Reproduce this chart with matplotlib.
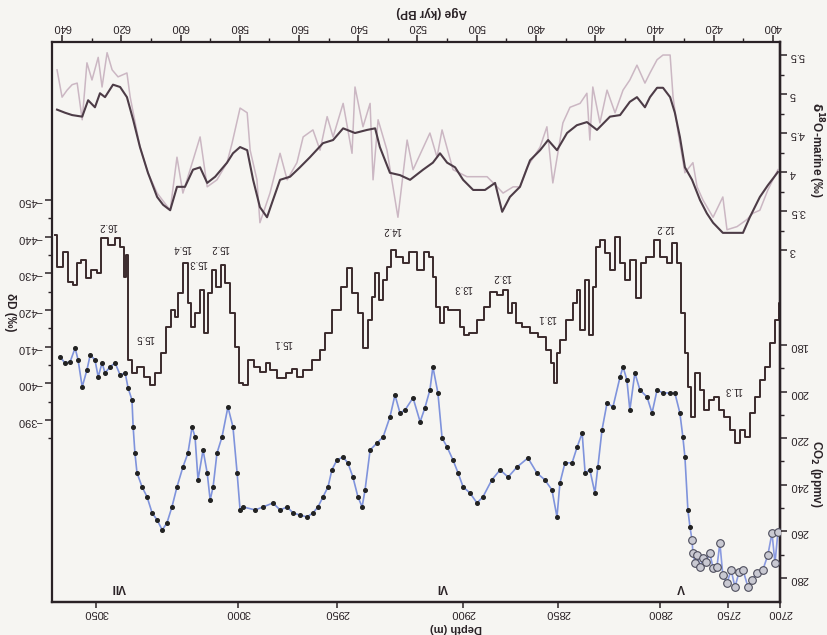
import matplotlib
matplotlib.use("Agg")
import matplotlib.pyplot as plt
from matplotlib.ticker import FixedLocator

plt.rcParams['font.family'] = ['Liberation Sans', 'DejaVu Sans']

# ---------------- data (figure is printed upside down) ----------------
dD_age = [642.4, 640.7, 639.0, 637.3, 635.6, 634.6, 632.9, 631.2, 629.5, 627.2, 626.2, 623.1, 621.1, 619.7,
          618.7, 618.4, 617.0, 616.0, 613.7, 611.3, 609.6, 607.6, 605.9, 604.2, 602.5, 601.2, 600.2, 598.1,
          596.8, 595.8, 594.4, 592.7, 591.7, 590.0, 589.0, 587.3, 585.6, 584.3, 582.6, 580.9, 579.9, 578.2,
          576.5, 574.2, 572.0, 570.5, 568.8, 566.0, 563.0, 561.5, 559.7, 557.3, 553.9, 552.2, 550.5, 547.2,
          544.5, 542.8, 541.1, 539.4,
          537.4, 536.0, 535.0, 533.7, 532.0, 531.0, 529.3, 528.3, 525.9, 524.2, 521.5, 519.1, 516.8, 515.1,
          514.1, 513.1, 511.7, 510.7, 509.0, 506.3, 505.0, 503.9, 501.2, 498.9, 496.5, 494.5, 492.1, 490.4,
          488.8, 487.7, 486.1, 483.0, 481.0, 477.6, 475.3, 474.3, 473.2, 472.6, 470.9, 468.5, 466.8, 465.8,
          464.4, 462.8, 461.1, 460.1, 459.1, 457.4, 456.0, 454.3, 452.6, 450.9, 449.3, 447.2, 445.2, 443.9,
          441.5, 439.1, 437.1, 434.7, 433.1, 431.4, 430.4, 429.0, 428.0, 427.0, 425.6, 423.9, 422.3, 420.6,
          418.9, 417.2, 415.5, 413.5, 412.1, 410.1, 408.4, 406.8, 405.1, 403.4, 401.7, 400.0, 398.6, 397.6]
dD_val = [-440.5, -431.7, -435.8, -427.6, -426.8, -432.8, -433.6, -428.7, -430.9, -430.1, -439.6, -437.7,
          -439.6, -437.2, -429.0, -435.0, -406.4, -402.8, -404.5, -401.7, -399.5, -402.8, -408.3, -415.4,
          -420.0, -418.1, -424.6, -432.8, -421.9, -415.4, -419.2, -425.5, -413.7, -424.6, -430.9, -426.3,
          -432.3, -427.4, -419.2, -409.9, -400.1, -399.5, -406.4, -404.5, -403.0, -405.5, -403.6, -401.5,
          -402.8, -404.0, -401.7, -403.6, -406.4, -409.1, -413.7, -420.0, -426.3, -431.5, -424.6, -419.2,
          -409.6, -417.3, -423.5, -430.1,
          -422.7, -428.2, -431.7, -436.4, -434.5, -432.8, -435.8, -430.9, -435.8, -434.5, -429.0, -420.8,
          -416.5, -420.8, -420.0, -420.0, -415.4, -413.2, -413.7, -417.3, -420.8, -424.9, -424.1, -425.5,
          -419.2, -421.9, -416.5, -415.4, -413.7, -412.6, -409.1, -405.6, -400.1, -408.3, -411.8, -417.3,
          -421.9, -425.5, -414.5, -428.2, -413.2, -426.3, -437.2, -439.1, -435.5, -430.9, -439.9, -432.8,
          -428.2, -433.6, -423.3, -432.8, -434.5, -439.1, -434.5, -432.8, -438.3, -432.8, -419.2, -408.3,
          -399.0, -390.8, -402.8, -398.2, -392.7, -395.5, -396.3, -392.7, -390.8, -387.3, -383.7, -387.3,
          -385.4, -391.9, -396.3, -400.9, -404.5, -411.0, -417.3, -421.9]

co2_age = [640.7, 639.0, 637.3, 635.6, 634.6, 633.2, 631.6, 630.5, 628.9, 627.8, 626.5, 625.5, 623.8, 622.1,
           620.4, 618.7, 617.7, 616.4, 616.0, 615.4, 614.7, 613.0, 611.3, 609.6, 607.9, 606.2, 604.6, 602.9,
           601.2, 599.2, 597.5, 596.1, 595.1, 594.1, 592.4, 591.0, 590.0, 589.0, 587.7, 586.0, 584.0, 582.3,
           580.9, 579.9, 578.9, 574.8, 572.1, 568.8, 566.4, 564.0, 562.0, 559.7, 557.3, 555.3, 553.6, 551.9,
           550.2, 548.9, 547.2, 545.2, 543.5, 541.8, 540.1, 538.7, 537.7, 536.0, 533.7, 531.6, 529.3, 527.6,
           525.9, 524.2, 521.5, 519.1, 517.5, 515.8, 514.8, 513.1, 511.7, 510.0, 508.0, 506.3, 504.6, 502.3,
           499.9, 497.9, 494.9, 492.1, 489.4, 486.4, 482.7, 479.7, 477.0, 474.6, 472.9, 471.9, 470.2, 467.8,
           466.1, 464.4, 463.4, 461.8, 460.1, 459.1, 457.7, 456.0, 454.0, 451.6, 450.6, 449.3, 448.3, 446.6,
           444.9, 442.5, 440.8, 439.1, 437.1, 434.7, 433.1, 431.4, 430.4, 429.7, 428.7, 428.0]
co2_val = [185.2, 187.7, 187.3, 181.3, 186.4, 198.0, 190.7, 184.3, 186.4, 193.7, 187.7, 192.0, 189.4, 187.7,
           192.9, 192.0, 198.5, 203.6, 215.2, 226.4, 234.9, 240.9, 245.2, 252.1, 255.1, 259.4, 256.4, 249.5,
           240.9, 232.4, 226.4, 215.2, 219.5, 237.9, 225.1, 234.9, 246.5, 240.9, 226.4, 219.5, 206.6, 215.2,
           234.9, 250.8, 249.5, 250.8, 249.5, 247.8, 250.8, 249.5, 252.1, 253.0, 253.8, 252.1, 249.5, 245.2,
           240.9, 233.6, 229.4, 228.1, 230.6, 236.7, 245.2, 249.5, 242.2, 225.1, 222.1, 219.5, 210.9, 201.5,
           209.2, 207.9, 202.7, 213.0, 207.0, 199.3, 189.4, 200.6, 219.9, 223.8, 229.4, 234.9, 240.9, 243.5,
           247.8, 245.2, 237.9, 233.6, 236.7, 232.4, 228.5, 234.9, 237.9, 242.2, 253.8, 239.2, 230.6, 230.6,
           223.8, 217.8, 234.9, 233.6, 243.5, 232.4, 216.5, 204.9, 206.6, 193.7, 189.4, 195.0, 207.9, 192.0,
           199.3, 202.3, 209.2, 199.3, 200.6, 200.6, 200.6, 209.2, 219.5, 228.1, 250.8, 258.1]

co2b_age = [428.0, 427.3, 427.0, 426.3, 425.6, 424.6, 423.6, 422.6, 421.3, 420.2, 418.9, 417.9, 416.9,
            415.5, 414.1, 412.8, 411.4, 410.1, 408.4, 407.1, 405.4, 403.4, 401.7, 400.3, 399.3, 398.3]
co2b_val = [258.1, 263.7, 269.3, 273.6, 270.1, 275.3, 271.4, 273.1, 269.3, 275.7, 275.3, 265.0, 278.7,
            282.1, 276.6, 283.9, 277.4, 276.6, 283.9, 280.9, 277.9, 276.6, 270.1, 260.7, 273.6, 260.3]

d18_smooth_age = [641.7, 639.0, 636.6, 633.2, 631.2, 628.9, 627.2, 625.5, 622.8, 620.4, 618.1, 616.0, 613.7,
                  611.0, 607.9, 605.9, 603.5, 601.2, 598.5, 595.8, 593.4, 591.0, 588.3, 584.3, 582.3, 579.9,
                  577.5, 575.5, 573.2, 570.8, 568.8, 566.4, 563.0, 559.7, 556.3, 551.9, 548.5, 545.1, 541.1,
                  537.0, 534.3, 532.7, 529.3, 525.9, 522.5, 518.1, 514.8, 512.4, 510.0, 507.3, 504.6, 501.2,
                  497.2, 493.8, 491.4, 488.8, 485.4, 482.0, 478.6, 475.9, 472.9, 469.5, 466.2, 462.8, 459.4,
                  455.0, 451.6, 448.3, 445.9, 443.2, 441.5, 439.1, 437.1, 434.7, 433.1, 431.4, 429.7, 427.3,
                  424.6, 422.3, 420.2, 416.9, 413.5, 410.1, 407.8, 406.1, 404.4, 401.7, 398.3]
d18_smooth_val = [4.80, 4.76, 4.73, 4.71, 4.92, 4.83, 5.01, 4.96, 5.12, 5.09, 4.96, 4.67, 4.32, 3.99, 3.68,
                  3.58, 3.51, 3.81, 3.81, 4.03, 4.06, 3.86, 3.94, 4.12, 4.24, 4.32, 4.28, 3.90, 3.55, 3.42,
                  3.64, 3.90, 3.94, 4.06, 4.19, 4.37, 4.41, 4.56, 4.50, 4.54, 4.56, 4.32, 3.99, 3.96, 3.90,
                  4.03, 4.12, 4.24, 4.12, 4.06, 3.90, 3.77, 3.77, 3.86, 3.49, 3.68, 3.81, 4.15, 4.28, 4.41,
                  4.28, 4.50, 4.60, 4.64, 4.54, 4.71, 4.73, 4.90, 4.96, 4.83, 4.96, 5.08, 5.08, 4.96, 4.76,
                  4.45, 4.06, 3.90, 3.64, 3.47, 3.35, 3.22, 3.22, 3.22, 3.42, 3.55, 3.68, 3.83, 4.00]

d18_raw_age = [641.7, 640.0, 638.3, 636.6, 634.9, 633.2, 631.6, 629.9, 627.8, 626.5, 624.8, 623.1, 621.1,
               618.1, 617.0, 613.7, 611.0, 607.9, 603.5, 601.2, 599.2, 595.8, 593.4, 591.0, 587.7, 584.3,
               582.6, 579.9, 577.5, 576.5, 574.2, 573.2, 569.8, 566.4, 564.0, 560.7, 558.6, 555.3, 552.9,
               550.5, 548.5, 545.1, 542.1, 541.1, 538.4, 536.0, 535.0, 533.3, 530.3, 526.6, 523.5, 521.5,
               515.8, 513.4, 511.7, 508.0, 503.3, 496.5, 493.1, 491.1, 487.7, 485.4, 483.0, 478.6, 476.3,
               474.3, 470.9, 468.5, 465.1, 462.8, 461.8, 460.8, 458.4, 456.0, 453.3, 450.6, 448.3, 445.9,
               443.2, 441.5, 439.1, 437.1, 434.7, 433.7, 432.0, 429.7, 427.0, 425.6, 423.6, 420.2, 416.9,
               415.5, 412.1, 408.8, 406.8, 404.4, 401.7, 398.3]
d18_raw_val = [5.31, 4.96, 5.05, 5.12, 5.14, 4.67, 5.40, 5.18, 5.47, 5.09, 5.53, 5.31, 5.22, 5.27, 4.96,
               4.32, 3.99, 3.73, 3.51, 4.19, 3.73, 4.15, 4.45, 3.81, 3.90, 4.12, 4.37, 4.82, 4.76, 4.28,
               3.90, 3.35, 3.73, 4.24, 3.90, 4.12, 4.45, 4.54, 4.28, 4.71, 4.45, 4.88, 4.24, 5.09, 4.58,
               4.88, 3.90, 4.67, 4.28, 3.42, 4.41, 4.03, 4.50, 4.19, 4.54, 4.03, 3.94, 3.94, 3.81, 3.73,
               3.81, 3.81, 4.06, 4.32, 4.58, 3.86, 4.63, 4.83, 4.88, 5.01, 4.41, 5.09, 4.63, 5.05, 4.76,
               5.05, 5.18, 5.37, 5.14, 5.27, 5.44, 5.50, 5.50, 4.96, 4.50, 3.99, 4.12, 3.81, 3.64, 3.42,
               3.68, 3.26, 3.30, 3.39, 3.47, 3.51, 3.77, 4.03]

stage_labels = ["16.2", "15.4", "15.3", "15.2", "15.5", "15.1", "14.2", "13.3", "13.2", "13.1", "12.2", "11.3"]
stage_age = [624.5, 599.5, 594.1, 586.7, 612.0, 565.4, 528.6, 504.6, 491.5, 476.3, 436.4, 413.5]
stage_dD = [-443.0, -436.9, -432.8, -436.9, -412.4, -411.0, -441.8, -426.0, -429.0, -417.8, -442.4, -398.2]

term_labels = ["VII", "VI", "V"]
term_age = [621.0, 511.5, 431.0]

age_ticks = list(range(400, 641, 20))
depth_labels = ["2700", "2750", "2800", "2850", "2900", "2950", "3000", "3050"]
depth_tick_age = [397.6, 415.2, 438.1, 472.6, 504.6, 547.2, 580.6, 628.5]

dD_ticks = [-450, -440, -430, -420, -410, -400, -390]
d18_ticks = [3, 3.5, 4, 4.5, 5, 5.5]
co2_ticks = [180, 200, 220, 240, 260, 280]

# ---------------- figure ----------------
W, H = 828, 635
bg = '#f6f5f2'
ink = '#2a2226'
fig = plt.figure(figsize=(W / 100, H / 100), dpi=100, facecolor=bg)
L, R, T, B = 52, 780, 42, 602
ax = fig.add_axes([L / W, 1 - B / H, (R - L) / W, (B - T) / H])
ax.set_facecolor('none')
ax.set_xlim(643.4, 397.6)
ax.set_ylim(-340.4, -493.1)

# right axes
ax_o = ax.twinx()
ax_o.set_ylim(-1.513, 5.667)
ax_c = ax.twinx()
ax_c.set_ylim(290.3, 50.0)
for a in (ax_o, ax_c):
    a.set_facecolor('none')
    for s in ('left', 'top', 'bottom'):
        a.spines[s].set_visible(False)

for a in (ax, ax_o, ax_c):
    for s in a.spines.values():
        s.set_linewidth(1.6)
        s.set_color(ink)

# curves
ax_o.plot(d18_raw_age, d18_raw_val, color='#cbb7c3', lw=1.1, zorder=2)
ax_o.plot(d18_smooth_age, d18_smooth_val, color='#4d3c47', lw=1.5, zorder=3)
ax.plot(dD_age, dD_val, color='#3a2a2c', lw=1.4, drawstyle='steps-mid', zorder=3)
ax_c.plot(co2b_age, co2b_val, color='#8a9ae0', lw=1.2, zorder=2)
ax_c.plot(co2b_age[1:], co2b_val[1:], ls='none', marker='o', ms=5.5, mfc='#c9c9d2', mec='#4d4d5c',
          mew=0.8, zorder=3)
ax_c.plot(co2_age, co2_val, color='#7f93dc', lw=1.2, marker='o', ms=2.6, mfc='#222', mec='#222', zorder=3)

# ticks: δD (left)
ax.yaxis.set_major_locator(FixedLocator(dD_ticks))
ax.yaxis.set_minor_locator(FixedLocator([-445, -435, -425, -415, -405, -395, -385]))
ax.tick_params(axis='y', which='both', left=True, right=False, direction='out', color=ink,
               labelrotation=180, labelsize=8, labelcolor=ink, pad=2)
ax.tick_params(axis='y', which='major', length=5, width=1.1)
ax.tick_params(axis='y', which='minor', length=3, width=1.0)

# age axis (top)
ax.xaxis.tick_top()
ax.xaxis.set_major_locator(FixedLocator(age_ticks))
ax.xaxis.set_minor_locator(FixedLocator(list(range(410, 641, 20))))
ax.tick_params(axis='x', which='both', direction='out', color=ink, labelrotation=180,
               labelsize=8, labelcolor=ink, pad=2)
ax.tick_params(axis='x', which='major', length=5, width=1.1)
ax.tick_params(axis='x', which='minor', length=3, width=1.0)

# depth axis (bottom)
sec = ax.secondary_xaxis('bottom')
sec.set_xticks(depth_tick_age, labels=depth_labels)
sec.tick_params(axis='x', direction='out', length=4, width=1.1, color=ink, labelrotation=180,
                labelsize=8, labelcolor=ink, pad=0.5)
sec.spines['bottom'].set_linewidth(1.6)
sec.spines['bottom'].set_color(ink)

# δ18O (right, upper)
ax_o.yaxis.set_major_locator(FixedLocator(d18_ticks))
ax_o.yaxis.set_minor_locator(FixedLocator([3.25, 3.75, 4.25, 4.75, 5.25]))
ax_o.tick_params(axis='y', which='both', direction='out', color=ink, labelrotation=180,
                 labelsize=8, labelcolor=ink, pad=2)
ax_o.tick_params(axis='y', which='major', length=5, width=1.1)
ax_o.tick_params(axis='y', which='minor', length=3, width=1.0)
ax_o.set_yticklabels(['3', '3.5', '4', '4.5', '5', '5.5'])

# CO2 (right, lower)
ax_c.yaxis.set_major_locator(FixedLocator(co2_ticks))
ax_c.yaxis.set_minor_locator(FixedLocator([190, 210, 230, 250, 270]))
ax_c.tick_params(axis='y', which='both', direction='out', color=ink, labelrotation=180,
                 labelsize=8, labelcolor=ink, pad=2)
ax_c.tick_params(axis='y', which='major', length=5, width=1.1)
ax_c.tick_params(axis='y', which='minor', length=3, width=1.0)

# stage labels
for s, a_, v in zip(stage_labels, stage_age, stage_dD):
    ax.text(a_, v, s, rotation=180, fontsize=7, color=ink, ha='center', va='center')
for s, a_ in zip(term_labels, term_age):
    ax.text(a_, 284.0, s, rotation=180, fontsize=8.5, color=ink, ha='center', va='center',
            fontweight='bold', transform=ax_c.transData)

# axis titles (pixel placement)
def ftxt(x, y, s, rot, size=8.5, **kw):
    fig.text(x / W, 1 - y / H, s, rotation=rot, ha='center', va='center', color=ink,
             fontsize=size, fontweight='bold', **kw)

ftxt(432, 12, 'Age (kyr BP)', 180)
ftxt(456, 628, 'Depth (m)', 180, size=8)
ftxt(10, 312, 'δD (‰)', 270)
ftxt(816, 150, r'$\mathbf{\delta^{18}}$O-marine (‰)', 270)
ftxt(816, 474, r'CO$_\mathbf{2}$ (ppmv)', 270)

fig.savefig('out.png', dpi=100, facecolor=bg)
